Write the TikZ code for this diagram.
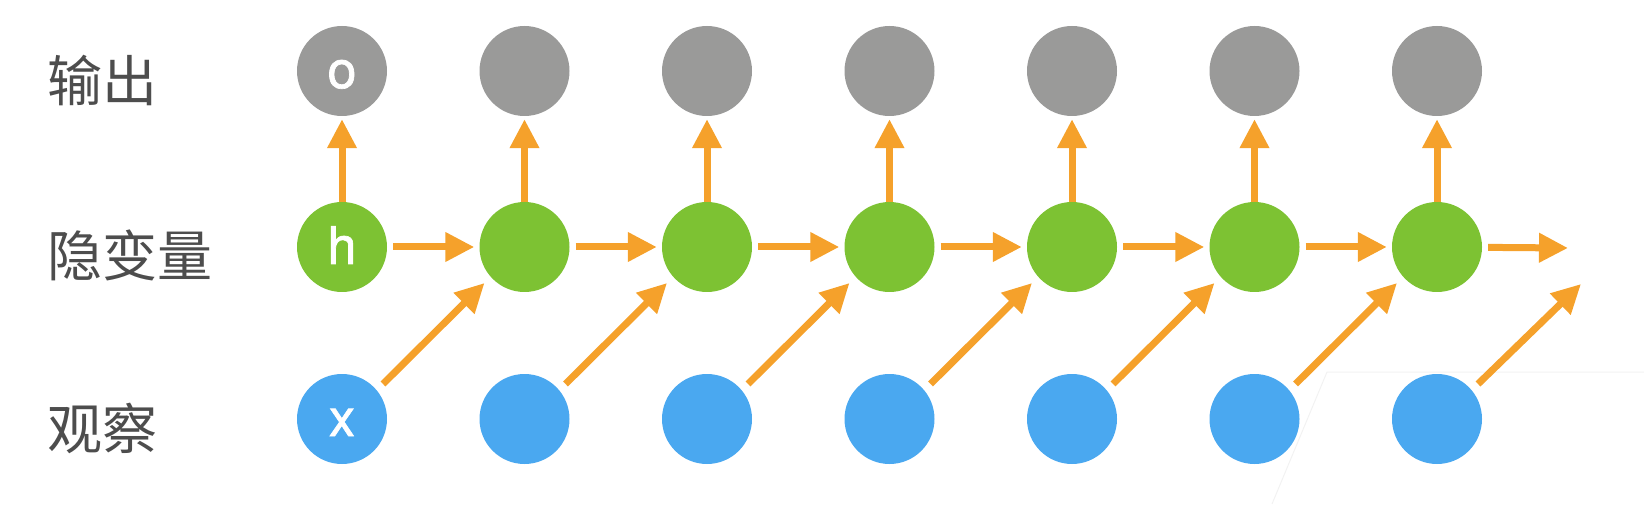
\documentclass[tikz,border=0pt]{standalone}
\usepackage{fontspec}
\newfontfamily\unitfont{TeX Gyre Heros}[FakeBold=1.3]
\newfontfamily\cjkfont{Noto Sans CJK SC}
\usetikzlibrary{arrows.meta}
\definecolor{outgray}{HTML}{9A9A99}
\definecolor{hidgreen}{HTML}{7DC233}
\definecolor{obsblue}{HTML}{4AA8F0}
\definecolor{arrorange}{HTML}{F5A12B}
\definecolor{labelgray}{HTML}{4D4D4D}
\begin{document}
\begin{tikzpicture}[x=1pt,y=1pt,
  unit/.style={circle,inner sep=0pt,minimum size=90pt,text height=34pt,text depth=0pt,
    text=white,font=\unitfont\fontsize{52}{52}\selectfont},
  outunit/.style={unit,fill=outgray},
  hidunit/.style={unit,fill=hidgreen},
  obsunit/.style={unit,fill=obsblue},
  rowlabel/.style={anchor=west,inner sep=0pt,text=labelgray,font=\cjkfont\fontsize{55}{55}\selectfont},
  flow/.style={draw=arrorange,line width=7pt,-{Triangle[length=29pt,width=28pt]}}]
\useasboundingbox (0,0) rectangle (1644,504);
\draw[black!5,line width=1pt] (1272,0) -- (1327,132) -- (1644,132);
\node[rowlabel] (lo) at (47,424) {输出};
\node[rowlabel] (lh) at (47,249) {隐变量};
\node[rowlabel] (lx) at (47,76) {观察};
\foreach \i in {1,...,7}{
  \node[outunit] (o\i) at ({342+182.5*(\i-1)},433) {\ifnum\i=1 o\fi};
  \node[hidunit] (h\i) at ({342+182.5*(\i-1)},257) {\ifnum\i=1 h\fi};
  \node[obsunit] (x\i) at ({342+182.5*(\i-1)},85) {\ifnum\i=1 x\fi};
  \draw[flow,shorten >=3pt] (h\i) -- (o\i);
}
\foreach \i [evaluate=\i as \j using int(\i+1)] in {1,...,6}{
  \draw[flow,shorten <=6pt,shorten >=5pt] (h\i) -- (h\j);
  \draw[flow] ([shift={(41pt,35pt)}]x\i.center) -- ([shift={(-40pt,-36pt)}]h\j.center);
}
\coordinate (hend) at (1568,256);
\coordinate (xend) at (1581,220);
\draw[flow,shorten <=6pt] (h7) -- (hend);
\draw[flow] ([shift={(41pt,35pt)}]x7.center) -- (xend);
\end{tikzpicture}
\end{document}
